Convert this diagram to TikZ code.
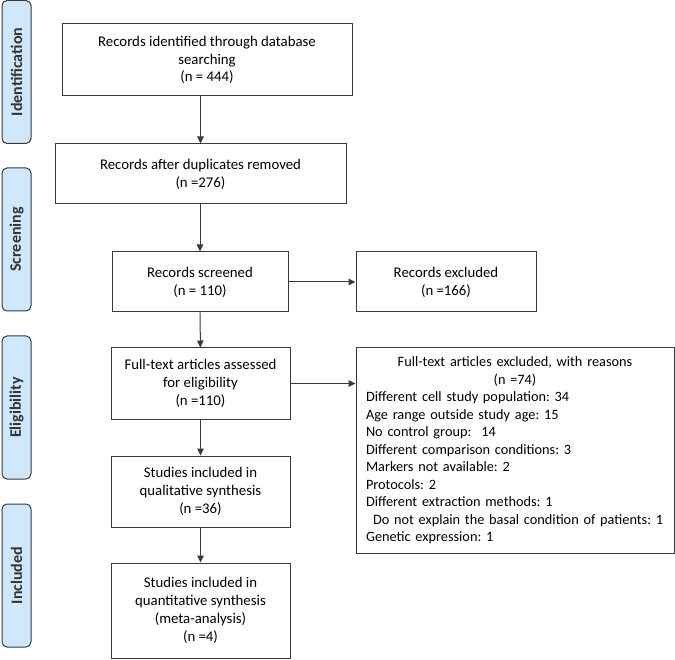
\documentclass[tikz,border=0pt]{standalone}
\usepackage{fontspec}
\setmainfont{Carlito}
\usetikzlibrary{arrows.meta}
\definecolor{phasefill}{HTML}{CFE8FB}
\definecolor{linegray}{HTML}{3A3A3A}
\frenchspacing

\begin{document}
\begin{tikzpicture}[x=1pt, y=-1pt,
		box/.style={draw=linegray, line width=1pt, align=center, inner sep=2pt,
			font=\fontsize{14.8}{17.8}\selectfont},
		phase/.style={draw=linegray, fill=phasefill, line width=1pt, rounded corners=5pt,
			minimum width=29pt, minimum height=143pt, inner sep=0pt},
		phasetext/.style={rotate=90, font=\fontsize{16}{18}\selectfont\bfseries, text=black!80},
		flow/.style={draw=linegray, line width=1pt, -{Triangle[length=7pt, width=6.5pt]}}]
		%%%%% START %%%%%
		\useasboundingbox (0, 0) rectangle (675, 660);
		
		% phases on the left
		\node[phase] (ident) at (16.5, 72) {};
		\node[phasetext] at (ident) {Identification};
		\node[phase] (screen) at (16.5, 239.5) {};
		\node[phasetext] at (screen) {Screening};
		\node[phase] (elig) at (16.5, 407.5) {};
		\node[phasetext] at (elig) {Eligibility};
		\node[phase] (incl) at (16.5, 575.5) {};
		\node[phasetext] at (incl) {Included};
		
		% main column
		\node[box, minimum width=290pt, minimum height=72pt] (identified) at (207, 60)
			{Records identified through database\\searching\\(n = 444)};
		\node[box, minimum width=291pt, minimum height=60pt] (dupl) at (200.5, 174)
			{Records after duplicates removed\\(n =276)};
		\node[box, minimum width=176pt, minimum height=60pt] (screened) at (200, 282)
			{Records screened\\(n = 110)};
		\node[box, minimum width=179pt, minimum height=71pt] (fulltext) at (200.5, 383.5)
			{Full-text articles assessed\\for eligibility\\(n =110)};
		\node[box, minimum width=179pt, minimum height=71pt] (quali) at (200.5, 491.5)
			{Studies included in\\qualitative synthesis\\(n =36)};
		\node[box, minimum width=179pt, minimum height=95pt] (quanti) at (200.5, 610.5)
			{Studies included in\\quantitative synthesis\\(meta-analysis)\\(n =4)};
		
		% exclusions
		\node[box, minimum width=318pt, minimum height=205pt, text width=298pt, align=left,
			font=\fontsize{14.3}{17.5}\selectfont] (ftexcl) at (515, 450.5)
			{\centering Full-text articles excluded, with reasons\\(n =74)\par
			\raggedright Different cell study population: 34\\
			Age range outside study age: 15\\
			No control group:\hspace{10pt}14\\
			Different comparison conditions: 3\\
			Markers not available: 2\\
			Protocols: 2\\
			Different extraction methods: 1\\
			\mbox{\hspace*{7pt}Do not explain the basal condition of patients: 1}\\
			Genetic expression: 1\par};
		\node[box, minimum width=180pt, minimum height=60pt] (recexcl) at (446, 282)
			{Records excluded\\(n =166)};
		
		% arrows
		\draw[flow] (dupl.north |- identified.south) -- (dupl.north);
		\draw[flow] (dupl.south -| screened.north) -- (screened.north);
		\draw[flow] (screened) -- (fulltext);
		\draw[flow] (fulltext) -- (quali);
		\draw[flow] (quali) -- (quanti);
		\draw[flow] (screened.east) -- (recexcl.west);
		\draw[flow] (fulltext.east) -- (fulltext.east -| ftexcl.west);
		%%%%% END %%%%%
	\end{tikzpicture}
\end{document}
